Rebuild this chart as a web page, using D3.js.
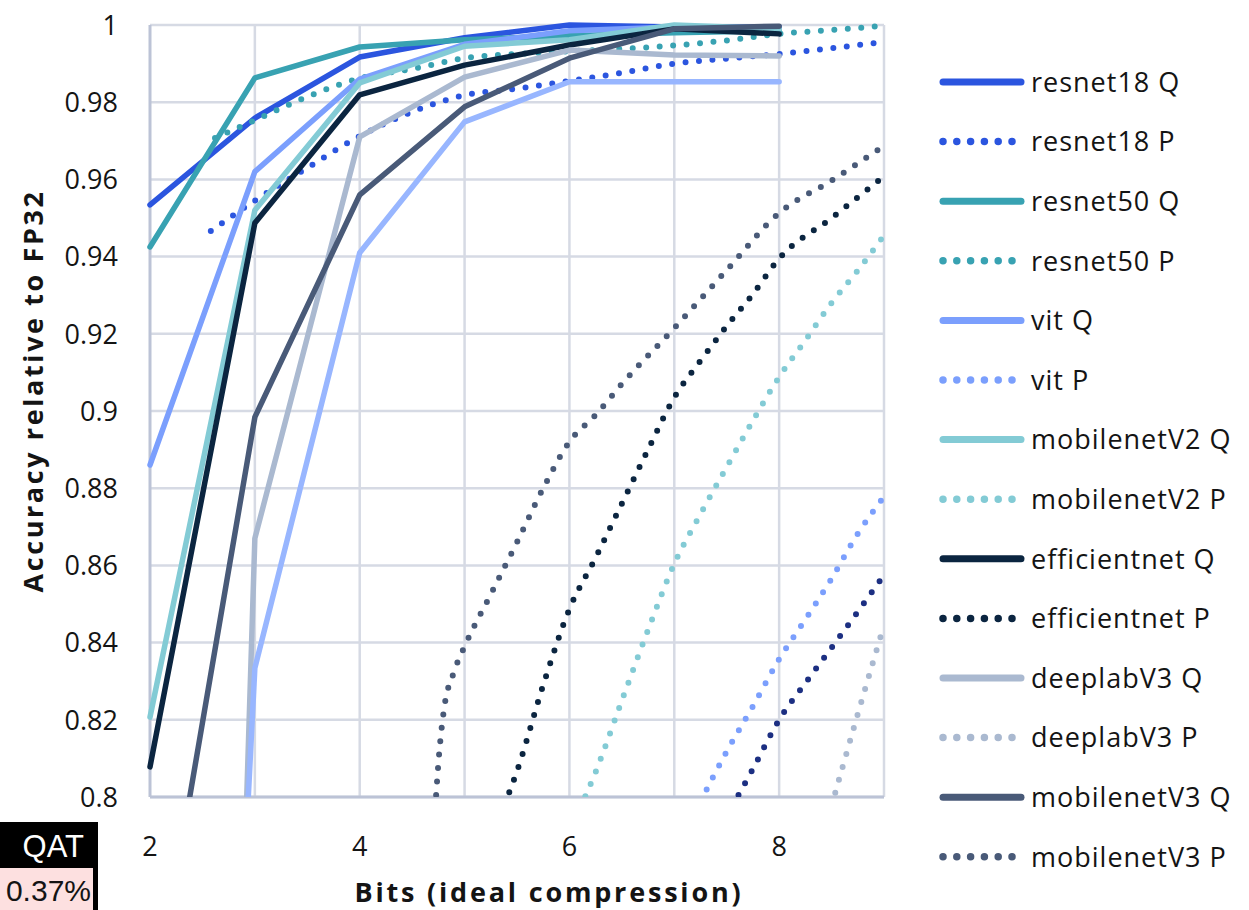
<!DOCTYPE html>
<html>
<head>
<meta charset="utf-8">
<script src="https://cdn.jsdelivr.net/npm/d3@7"></script>
<style>
  body { margin: 0; background: #fff; }
  svg text { font-family: "Open Sans", Lato, sans-serif; fill: #141414; }
</style>
</head>
<body>
<script>
// quantised runs (Q) all share the same bit grid
var qBits = [2, 3, 4, 5, 6, 7, 8];
var resnet18Q    = [0.9534, 0.9759, 0.9917, 0.9967, 1.0,    0.9995, 0.9995];
var resnet50Q    = [0.9425, 0.9863, 0.9943, 0.9962, 0.9972, 0.998,  0.9985];
var vitQ         = [0.886,  0.962,  0.986,  0.995,  0.9985, 0.9995, 0.9995];
var mobilenetV2Q = [0.8207, 0.952,  0.985,  0.9945, 0.9962, 1.0,    0.999];
var efficientQ   = [0.8078, 0.9487, 0.9819, 0.9896, 0.9948, 0.999,  0.9977];
var deeplabV3Q   = [0.002,  0.867,  0.971,  0.9865, 0.9935, 0.9922, 0.992];
var mobilenetV3Q = [0.740,  0.8984, 0.956,  0.9788, 0.9914, 0.999,  0.9997];
var extraQ       = [0.30,   0.8334, 0.941,  0.9749, 0.9853, 0.9853, 0.9853];

// pruned runs (P), each read on its own bit grid
var resnet18PBits = [2.58, 3, 3.5, 4, 4.5, 5, 5.5, 6, 6.5, 7, 7.5, 8, 8.5, 9];
var resnet18P     = [0.9466, 0.9545, 0.963, 0.9712, 0.9775, 0.9818, 0.9835, 0.9855, 0.9876, 0.990, 0.9913, 0.9925, 0.994, 0.9956];
var resnet50PBits = [2.62, 3, 3.5, 4, 4.5, 5, 5.5, 6, 6.5, 7, 7.5, 8, 8.5, 9];
var resnet50P     = [0.9707, 0.9753, 0.9814, 0.9862, 0.9886, 0.9914, 0.9925, 0.9932, 0.9938, 0.9947, 0.996, 0.9977, 0.9987, 0.9998];
var vitPBits      = [7.25, 7.5, 7.75, 8, 8.25, 8.5, 8.75, 9];
var vitP          = [0.7988, 0.8118, 0.8235, 0.8357, 0.846, 0.8566, 0.8682, 0.8778];
var mobV2PBits    = [6.1, 6.25, 6.5, 6.75, 7, 7.25, 7.5, 7.75, 8, 8.25, 8.5, 8.75, 9];
var mobilenetV2P  = [0.797, 0.8065, 0.825, 0.8433, 0.8604, 0.8733, 0.8855, 0.8975, 0.9088, 0.9183, 0.928, 0.9364, 0.9455];
var effPBits      = [5.38, 5.5, 5.75, 6, 6.25, 6.5, 6.75, 7, 7.25, 7.5, 7.75, 8, 8.5, 9];
var efficientP    = [0.798, 0.8067, 0.829, 0.8487, 0.862, 0.876, 0.890, 0.9035, 0.913, 0.922, 0.9303, 0.9395, 0.950, 0.9608];
var deeplabPBits  = [8.5, 8.75, 9];
var deeplabV3P    = [0.7977, 0.8215, 0.8445];
var mobV3PBits    = [4.72, 4.76, 4.8, 4.9, 5, 5.25, 5.5, 5.75, 6, 6.25, 6.5, 7, 7.5, 8, 8.5, 9];
var mobilenetV3P  = [0.797, 0.812, 0.822, 0.8325, 0.839, 0.8525, 0.866, 0.880, 0.892, 0.899, 0.907, 0.9215, 0.9365, 0.9513, 0.9597, 0.9687];
var extraPBits    = [7.55, 7.75, 8, 8.25, 8.5, 8.75, 9];
var extraP        = [0.7975, 0.8073, 0.82, 0.8295, 0.8387, 0.848, 0.8575];

var yTicks = [0.8, 0.82, 0.84, 0.86, 0.88, 0.9, 0.92, 0.94, 0.96, 0.98, 1];
var xTickLabels = [2, 4, 6, 8];

// colours per model
var cResnet18 = "#2b55df", cResnet50 = "#38a2b2", cVit = "#7b9ffd", cMobV2 = "#83cbd5",
    cEff = "#0b2540", cDeeplab = "#aab9d0", cMobV3 = "#495a78", cExtraQ = "#98b6ff", cExtraP = "#1c2f82";

// table of series, drawn in legend order (later ones on top)
var series = [
  {name: "resnet18 Q",    bits: qBits,         acc: resnet18Q,    color: cResnet18, dotted: false},
  {name: "resnet18 P",    bits: resnet18PBits, acc: resnet18P,    color: cResnet18, dotted: true},
  {name: "resnet50 Q",    bits: qBits,         acc: resnet50Q,    color: cResnet50, dotted: false},
  {name: "resnet50 P",    bits: resnet50PBits, acc: resnet50P,    color: cResnet50, dotted: true},
  {name: "vit Q",         bits: qBits,         acc: vitQ,         color: cVit,      dotted: false},
  {name: "vit P",         bits: vitPBits,      acc: vitP,         color: cVit,      dotted: true},
  {name: "mobilenetV2 Q", bits: qBits,         acc: mobilenetV2Q, color: cMobV2,    dotted: false},
  {name: "mobilenetV2 P", bits: mobV2PBits,    acc: mobilenetV2P, color: cMobV2,    dotted: true},
  {name: "efficientnet Q",bits: qBits,         acc: efficientQ,   color: cEff,      dotted: false},
  {name: "efficientnet P",bits: effPBits,      acc: efficientP,   color: cEff,      dotted: true},
  {name: "deeplabV3 Q",   bits: qBits,         acc: deeplabV3Q,   color: cDeeplab,  dotted: false},
  {name: "deeplabV3 P",   bits: deeplabPBits,  acc: deeplabV3P,   color: cDeeplab,  dotted: true},
  {name: "mobilenetV3 Q", bits: qBits,         acc: mobilenetV3Q, color: cMobV3,    dotted: false},
  {name: "mobilenetV3 P", bits: mobV3PBits,    acc: mobilenetV3P, color: cMobV3,    dotted: true},
  // these two have legend entries below the visible area
  {name: "",              bits: qBits,         acc: extraQ,       color: cExtraQ,   dotted: false, noLegend: true},
  {name: "",              bits: extraPBits,    acc: extraP,       color: cExtraP,   dotted: true,  noLegend: true}
];

var margin = {top: 25, left: 150},
    width = 734,
    height = 772;

var svg = d3.select("body").append("svg")
    .attr("width", 1249)
    .attr("height", 910);

var g = svg.append("g")
    .attr("transform", "translate(" + margin.left + "," + margin.top + ")");

var x = d3.scaleLinear().domain([2, 9]).range([0, width]);
var y = d3.scaleLinear().domain([0.8, 1]).range([height, 0]);

// grid
g.append("g").attr("class", "grid")
    .selectAll("line.h").data(yTicks).enter().append("line")
    .attr("x1", 0).attr("x2", width)
    .attr("y1", function(d) { return y(d); })
    .attr("y2", function(d) { return y(d); })
    .attr("stroke", "#d6dae4").attr("stroke-width", 2.5);

g.append("g").attr("class", "grid")
    .selectAll("line.v").data(d3.range(3, 10)).enter().append("line")
    .attr("y1", 0).attr("y2", height)
    .attr("x1", function(d) { return x(d); })
    .attr("x2", function(d) { return x(d); })
    .attr("stroke", "#d6dae4").attr("stroke-width", 2.5);

// axis lines
g.append("line").attr("x1", 0).attr("x2", 0).attr("y1", 0).attr("y2", height)
    .attr("stroke", "#bcc3d6").attr("stroke-width", 3);
g.append("line").attr("x1", 0).attr("x2", width).attr("y1", height).attr("y2", height)
    .attr("stroke", "#bcc3d6").attr("stroke-width", 3);

// tick labels
g.selectAll("text.ytick").data(yTicks).enter().append("text")
    .attr("class", "ytick")
    .attr("x", -32)
    .attr("y", function(d) { return y(d); })
    .attr("dy", "0.36em")
    .attr("text-anchor", "end")
    .style("font-size", "27px")
    .text(function(d) { return String(+d.toFixed(2)); });

g.selectAll("text.xtick").data(xTickLabels).enter().append("text")
    .attr("class", "xtick")
    .attr("x", function(d) { return x(d); })
    .attr("y", 856 - margin.top)
    .attr("text-anchor", "middle")
    .style("font-size", "27px")
    .text(function(d) { return d; });

// axis titles
svg.append("text")
    .attr("x", 549).attr("y", 902)
    .attr("text-anchor", "middle")
    .style("font-size", "27px").style("font-weight", "bold")
    .style("letter-spacing", "2.8px")
    .text("Bits (ideal compression)");

svg.append("text")
    .attr("transform", "translate(43," + 391 + ") rotate(-90)")
    .attr("text-anchor", "middle")
    .style("font-size", "27px").style("font-weight", "bold")
    .style("letter-spacing", "2.6px")
    .text("Accuracy relative to FP32");

// clip the curves to the plot box (a little slack so the caps show)
svg.append("defs").append("clipPath").attr("id", "plotclip")
  .append("rect").attr("x", -8).attr("y", -8).attr("width", width + 8).attr("height", height + 8);

var lineQ = d3.line()
    .x(function(d) { return x(d[0]); })
    .y(function(d) { return y(d[1]); });
var lineP = d3.line()
    .curve(d3.curveMonotoneX)
    .x(function(d) { return x(d[0]); })
    .y(function(d) { return y(d[1]); });

var plot = g.append("g").attr("clip-path", "url(#plotclip)");

series.forEach(function(s) {
  var pts = s.bits.map(function(b, i) { return [b, s.acc[i]]; });
  var path = plot.append("path")
      .datum(pts)
      .attr("fill", "none")
      .attr("stroke", s.color)
      .attr("stroke-linecap", "round")
      .attr("stroke-linejoin", "round");
  if (s.dotted) {
    path.attr("d", lineP).attr("stroke-width", 6).attr("stroke-dasharray", "0 13.5");
  } else {
    path.attr("d", lineQ).attr("stroke-width", 5.5);
  }
});

// legend
var legend = svg.append("g").attr("class", "legend");
series.filter(function(s) { return !s.noLegend; }).forEach(function(s, i) {
  var ly = 82 + i * 59.6;
  if (s.dotted) {
    legend.append("line")
        .attr("x1", 943).attr("x2", 1013).attr("y1", ly).attr("y2", ly)
        .attr("stroke", s.color).attr("stroke-width", 7.5)
        .attr("stroke-linecap", "round").attr("stroke-dasharray", "0 13.8");
  } else {
    legend.append("line")
        .attr("x1", 943).attr("x2", 1021).attr("y1", ly).attr("y2", ly)
        .attr("stroke", s.color).attr("stroke-width", 7)
        .attr("stroke-linecap", "round");
  }
  legend.append("text")
      .attr("x", 1031).attr("y", ly)
      .attr("dy", "0.36em")
      .style("font-size", "27px")
      .style("letter-spacing", "1px")
      .text(s.name);
});

// leftover table cells at the bottom-left edge
svg.append("rect").attr("x", 0).attr("y", 822).attr("width", 98).attr("height", 46).attr("fill", "#000");
svg.append("rect").attr("x", 0).attr("y", 868).attr("width", 93).attr("height", 42).attr("fill", "#fde0e0");
svg.append("rect").attr("x", 93).attr("y", 868).attr("width", 5).attr("height", 42).attr("fill", "#000");
svg.append("text")
    .attr("x", 84).attr("y", 857)
    .attr("text-anchor", "end")
    .style("font-family", "'Liberation Sans', Arial, sans-serif")
    .style("font-size", "31px").style("fill", "#fff")
    .text("QAT");
svg.append("text")
    .attr("x", 91).attr("y", 901)
    .attr("text-anchor", "end")
    .style("font-family", "'Liberation Sans', Arial, sans-serif")
    .style("font-size", "30px").style("fill", "#141414")
    .text("0.37%");
</script>
</body>
</html>
